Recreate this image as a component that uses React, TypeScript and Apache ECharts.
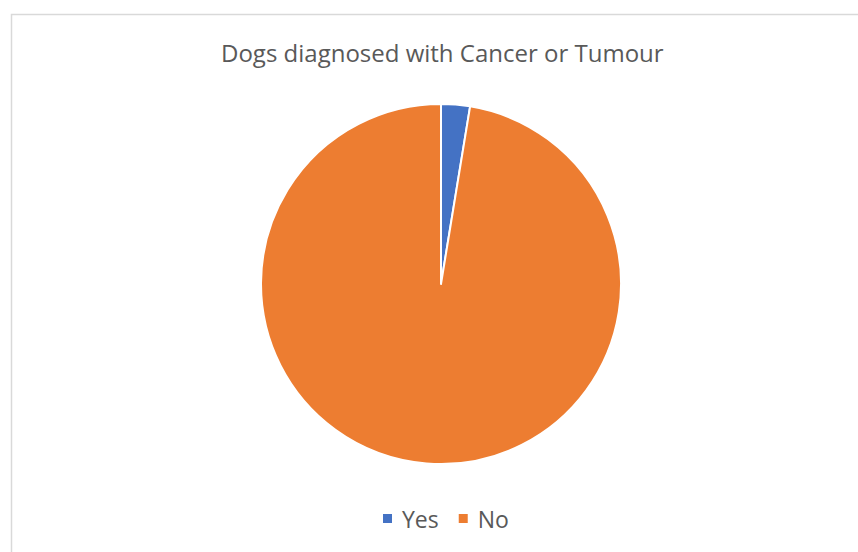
import React, { useEffect, useRef } from "react";
import * as echarts from "echarts";

const categories = ["Yes", "No"];
const values = [3, 113];
const colors = ["#4472C4", "#ED7D31"];
const titleText = "Dogs diagnosed with Cancer or Tumour";

export default function App() {
  const ref = useRef<HTMLDivElement>(null);
  useEffect(() => {
    if (!ref.current) return;
    const chart = echarts.init(ref.current, undefined, { renderer: "svg" });
    const font = "'Open Sans', 'Liberation Sans', sans-serif";
    chart.setOption({
      animation: false,
      backgroundColor: "#ffffff",
      title: {
        text: titleText,
        left: 216,
        top: 35,
        textStyle: { fontFamily: font, fontSize: 24, fontWeight: "normal", color: "#595959" },
      },
      legend: {
        data: categories,
        left: 376,
        top: 502,
        icon: "rect",
        itemWidth: 11,
        itemHeight: 11,
        itemGap: 18,
        textStyle: { fontFamily: font, fontSize: 23, color: "#595959", padding: [0, 0, 0, 4] },
      },
      graphic: [
        {
          type: "rect",
          shape: { x: 11.5, y: 14.5, width: 900, height: 600 },
          style: { fill: "none", stroke: "#d9d9d9", lineWidth: 1.5 },
          silent: true,
        },
      ],
      series: [
        {
          type: "pie",
          center: [441, 284],
          radius: 180,
          startAngle: 90,
          clockwise: true,
          label: { show: false },
          labelLine: { show: false },
          itemStyle: { borderColor: "#ffffff", borderWidth: 2 },
          data: categories.map((c, i) => ({ name: c, value: values[i], itemStyle: { color: colors[i] } })),
        },
      ],
    });
    return () => chart.dispose();
  }, []);
  return <div ref={ref} style={{ position: "fixed", left: 0, top: 0, width: 858, height: 552 }} />;
}
